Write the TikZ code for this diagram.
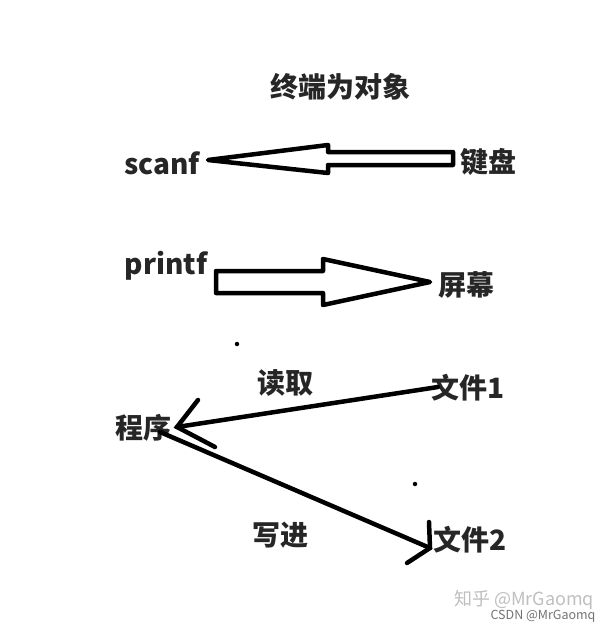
\documentclass[tikz,border=0pt]{standalone}
\usepackage{fontspec}
\setmainfont{Noto Sans CJK SC}
\begin{document}
\begin{tikzpicture}[x=1pt,y=-1pt,
  lbl/.style={inner sep=0pt,font=\fontsize{28}{32}\selectfont\bfseries,text=black!85},
  outline/.style={draw=black,line width=4.5pt,line join=round,line cap=round},
  stroke/.style={draw=black,line width=4.5pt,line cap=round},
  dotmark/.style={circle,fill=black,inner sep=0pt,minimum size=4.5pt}]
\useasboundingbox (0,0) rectangle (612,630);
\fill[white] (0,0) rectangle (612,630);
% labels
\node[lbl] (title) at (340,87) {终端为对象};
\node[lbl] (scanf) at (162,163) {scanf};
\node[lbl] (kbd) at (488,162) {键盘};
\node[lbl] (printf) at (166,266) {printf};
\node[lbl] (screen) at (466,285) {屏幕};
\node[lbl] (read) at (285,383) {读取};
\node[lbl] (file1) at (468,388) {文件1};
\node[lbl] (prog) at (143,428) {程序};
\node[lbl] (write) at (280,535) {写进};
\node[lbl] (file2) at (470,540) {文件2};
% block arrow keyboard -> scanf
\coordinate (sTip) at (208,160);
\draw[outline] (sTip) -- (328,145) -- (328,152) -- (453,152) -- (453,165) -- (328,165) -- (328,173) -- cycle;
% block arrow printf -> screen
\coordinate (pTip) at (430,282);
\draw[outline] (216,271) -- (323,271) -- (323,259) -- (pTip) -- (323,305) -- (323,293) -- (216,293) -- cycle;
% read arrow file1 -> program
\coordinate (rStart) at (438,387);
\coordinate (rTip) at (177,427);
\draw[stroke] (rStart) -- (rTip);
\draw[stroke] (198,400) -- (rTip) -- (215,447);
% write arrow program -> file2
\coordinate (wStart) at (160,432);
\coordinate (wTip) at (430,548);
\draw[stroke] (wStart) -- (wTip);
\draw[stroke] (429,522) -- (wTip) -- (407,563);
% dots
\node[dotmark] (d1) at (237,344) {};
\node[dotmark] (d2) at (415,484) {};
% watermark
\node[inner sep=0pt,font=\fontsize{18}{20}\selectfont,text=black!25] (wm1) at (524,600) {知乎 @MrGaomq};
\node[inner sep=0pt,font=\fontsize{12.5}{14}\selectfont,text=black!55] (wm2) at (543,616) {CSDN @MrGaomq};
\end{tikzpicture}
\end{document}
